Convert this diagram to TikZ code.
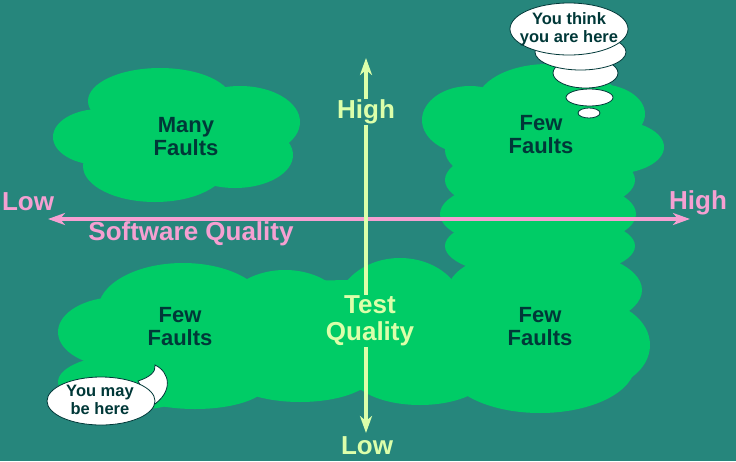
\documentclass[tikz,border=0pt]{standalone}
\usepackage{fontspec}
\setmainfont{Liberation Sans}
\usetikzlibrary{arrows.meta}
\definecolor{slideteal}{RGB}{38,134,124}
\definecolor{cloudgreen}{RGB}{0,204,102}
\definecolor{faultink}{RGB}{0,56,56}
\definecolor{swpink}{RGB}{245,160,210}
\definecolor{tqlime}{RGB}{220,255,170}

\begin{document}
\begin{tikzpicture}[x=1pt,y=-1pt,
  cloud/.style={fill=cloudgreen},
  faults/.style={font=\fontsize{22}{23}\selectfont\bfseries,text=faultink,align=center},
  swlabel/.style={font=\fontsize{26}{27}\selectfont\bfseries,text=swpink},
  tqlabel/.style={font=\fontsize{26}{27}\selectfont\bfseries,text=tqlime,align=center},
  bubble/.style={fill=white,draw=faultink,line width=0.8pt},
  bubbletext/.style={font=\fontsize{16.5}{18}\selectfont\bfseries,text=faultink,align=center},
  axisline/.style={line width=3.5pt,{Stealth[length=17pt,width=12pt,inset=5pt]}-{Stealth[length=17pt,width=12pt,inset=5pt]}}]
% background
\fill[slideteal] (0,0) rectangle (736,461);
\useasboundingbox (0,0) rectangle (736,461);
% Many Faults cloud
\foreach \cx/\cy/\rx/\ry in {100/137/47/28, 160/101/72/33, 240/122/60/36, 235/155/58/33, 155/166/72/36, 180/140/90/45}
  \fill[cloud] (\cx,\cy) ellipse [x radius=\rx, y radius=\ry];
% Few Faults cloud, top right and down into the bottom row
\foreach \cx/\cy/\rx/\ry in {470/120/48/34, 548/104/72/40, 598/114/47/30, 612/147/52/27, 540/150/95/40,
    540/180/95/35, 538/214/98/36, 540/246/95/32,
    545/290/97/42, 590/345/60/45, 540/365/95/48, 420/372/70/33, 300/372/75/30, 195/384/72/25,
    400/312/65/54, 285/318/65/48, 183/310/85/47, 118/332/60/35, 130/382/72/28, 360/335/260/55}
  \fill[cloud] (\cx,\cy) ellipse [x radius=\rx, y radius=\ry];
% axes
\coordinate (swlow) at (48,219);
\coordinate (swhigh) at (690,219);
\coordinate (tqhigh) at (366,58);
\coordinate (tqlow) at (366,433);
\draw[axisline,swpink] (swlow) -- (swhigh);
\draw[axisline,tqlime] (tqhigh) -- (tqlow);
% quadrant texts
\node[faults] (many) at (186,137) {Many\\Faults};
\node[faults] (fewhh) at (541,135) {Few\\Faults};
\node[faults] (fewll) at (180,327) {Few\\Faults};
\node[faults] (fewhl) at (540,327) {Few\\Faults};
% axis labels
\node[swlabel] (swlowlabel) at (28,202) {Low};
\node[swlabel] (swhighlabel) at (698,203) {High};
\node[swlabel] (swtitle) at (191,234) {Software Quality};
\node[tqlabel,fill=slideteal,inner sep=1pt] (tqhighlabel) at (366,112) {High};
\node[tqlabel,fill=cloudgreen,inner sep=1pt] (tqtitle) at (370,321) {Test\\Quality};
\node[tqlabel] (tqlowlabel) at (367,446) {Low};
% thought bubble
\filldraw[bubble] (589,113) ellipse [x radius=11, y radius=5];
\filldraw[bubble] (589.5,97.5) ellipse [x radius=23.5, y radius=8.5];
\filldraw[bubble] (585.5,73) ellipse [x radius=32.5, y radius=15];
\filldraw[bubble] (580.5,52) ellipse [x radius=45.5, y radius=18];
\filldraw[bubble] (569,29) ellipse [x radius=59, y radius=26];
\node[bubbletext] (think) at (569,29) {You think\\you are here};
% speech bubble
\filldraw[bubble] (138,381) .. controls (150,377) and (156,372) .. (155,365)
  .. controls (170,372) and (174,392) .. (152,406) -- cycle;
\filldraw[bubble] (101,401) ellipse [x radius=54, y radius=24];
\node[bubbletext] (maybe) at (100,400) {You may\\be here};
\end{tikzpicture}
\end{document}
